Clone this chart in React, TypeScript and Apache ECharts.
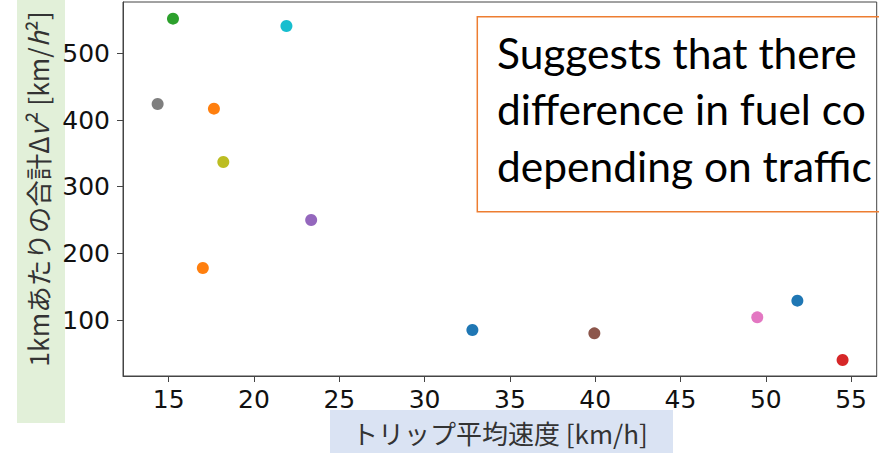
import React, { useEffect, useRef } from "react";
import * as echarts from "echarts";

// Data
const speeds = [32.8, 17.65, 15.25, 54.5, 23.35, 39.95, 49.5, 14.35, 18.2, 21.9, 51.85, 17.0];
const deltaV2 = [85, 417, 552, 40, 250, 80, 104, 424, 337, 541, 129, 178];
const pointColors = [
  "#1f77b4", "#ff7f0e", "#2ca02c", "#d62728", "#9467bd",
  "#8c564b", "#e377c2", "#7f7f7f", "#bcbd22", "#17becf",
  "#1f77b4", "#ff7f0e",
];
const xTicks = [15, 20, 25, 30, 35, 40, 45, 50, 55];
const yTicks = [100, 200, 300, 400, 500];
const xAxisTitle = "トリップ平均速度 [km/h]";
const yAxisTitle = "1kmあたりの合計Δ{i|v}² [km/{i|h}²]";
const noteLines = ["Suggests that there", "difference in fuel co", "depending on traffic"];

export default function App() {
  const ref = useRef<HTMLDivElement>(null);
  useEffect(() => {
    document.body.style.margin = "0";
    if (!ref.current) return;
    const chart = echarts.init(ref.current, undefined, { renderer: "svg" });
    const jp = "'Noto Sans CJK JP', 'Noto Sans', sans-serif";
    const num = "'DejaVu Sans', 'Noto Sans', sans-serif";
    chart.setOption({
      animation: false,
      backgroundColor: "#ffffff",
      grid: {
        left: 123,
        right: 2.3,
        top: 2,
        bottom: 77,
        show: true,
        borderColor: "#444",
        borderWidth: 1,
        backgroundColor: "transparent",
      },
      xAxis: {
        type: "value",
        min: 12.32,
        max: 56.5,
        splitLine: { show: false },
        axisLine: { show: true, lineStyle: { color: "#444", width: 1 } },
        axisTick: { show: true, length: 6, customValues: xTicks, lineStyle: { color: "#444" } },
        axisLabel: {
          customValues: xTicks,
          fontSize: 25,
          lineHeight: 25,
          color: "#111",
          margin: 11,
          fontFamily: num,
        },
        name: xAxisTitle,
        nameLocation: "middle",
        nameGap: 43,
        nameTextStyle: { fontSize: 26, lineHeight: 26, color: "#333", fontFamily: jp },
      },
      yAxis: {
        type: "value",
        min: 16,
        max: 577,
        splitLine: { show: false },
        axisLine: { show: true, lineStyle: { color: "#444", width: 1 } },
        axisTick: { show: true, length: 6, customValues: yTicks, lineStyle: { color: "#444" } },
        axisLabel: {
          customValues: yTicks,
          fontSize: 25,
          lineHeight: 25,
          color: "#111",
          margin: 13,
          fontFamily: num,
        },
        name: yAxisTitle,
        nameLocation: "middle",
        nameRotate: 90,
        nameGap: 70,
        nameTextStyle: {
          fontSize: 26.5,
          lineHeight: 27,
          color: "#333",
          fontFamily: jp,
          rich: { i: { fontSize: 26.5, lineHeight: 27, color: "#333", fontFamily: jp, fontStyle: "italic" } },
        },
      },
      graphic: [
        { type: "rect", z: -10, shape: { x: 17, y: 0, width: 48, height: 423 }, style: { fill: "#e2f0d9" } },
        { type: "rect", z: -10, shape: { x: 330, y: 410, width: 343, height: 43 }, style: { fill: "#dae3f3" } },
        {
          type: "polyline",
          z: 10,
          shape: { points: [[885, 16.7], [477.3, 16.7], [477.3, 211.7], [885, 211.7]] },
          style: { stroke: "#ed7d31", lineWidth: 1.5, fill: "none" },
        },
        ...noteLines.map((t, i) => ({
          type: "text",
          z: 10,
          x: 497,
          y: 52 + i * 56.7,
          style: {
            text: t,
            font: "42.5px Lato, 'Open Sans', sans-serif",
            fill: "#000",
            verticalAlign: "middle",
            align: "left",
          },
        })),
      ],
      series: [
        {
          type: "scatter",
          symbolSize: 12,
          data: speeds.map((s, i) => ({
            value: [s, deltaV2[i]],
            itemStyle: { color: pointColors[i], opacity: 1 },
          })),
        },
      ],
    });
    return () => chart.dispose();
  }, []);
  return <div ref={ref} style={{ position: "absolute", left: 0, top: 0, width: 879, height: 453 }} />;
}
